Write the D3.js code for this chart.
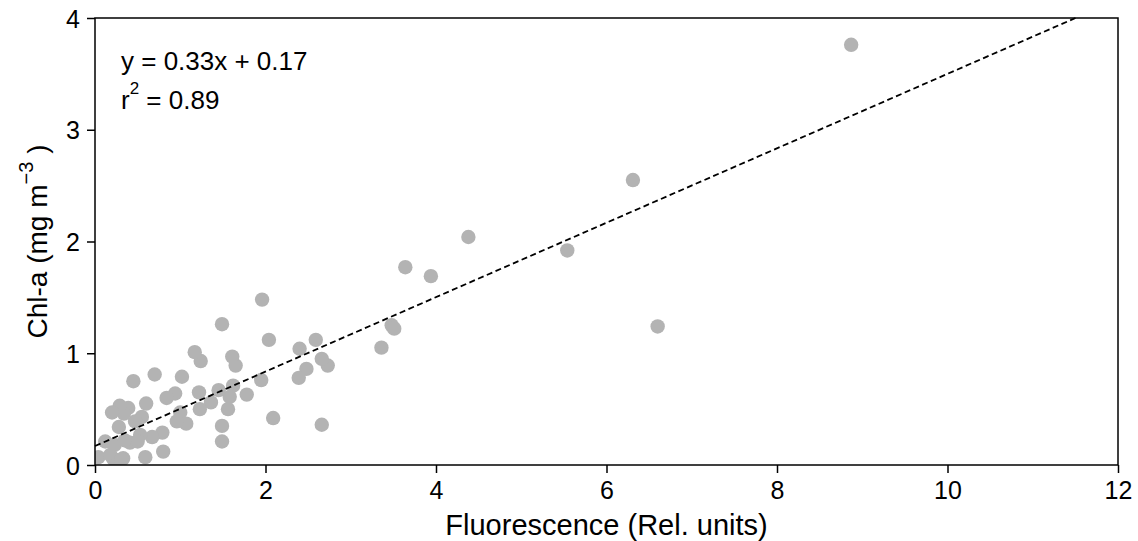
<!DOCTYPE html>
<html>
<head>
<meta charset="utf-8">
<script src="https://cdn.jsdelivr.net/npm/d3@7"></script>
<style>
  body { margin: 0; background: #fff; }
  svg text { font-family: "Liberation Sans", Arial, sans-serif; fill: #000; }
</style>
</head>
<body>
<svg id="chart" width="1138" height="541"></svg>
<script>
// fluorescence (x) vs chl-a (y)
const fluo = [8.87, 6.31, 6.60, 5.54, 4.38, 3.94, 3.64, 3.48, 3.51, 3.36,
  2.66, 2.73, 2.66, 2.59, 2.48, 2.40, 2.39, 2.09, 2.04, 1.96,
  1.95, 1.78, 1.65, 1.61, 1.62, 1.58, 1.56, 1.49, 1.49, 1.49,
  1.45, 1.36, 1.24, 1.17, 1.22, 1.23, 1.07, 1.02, 1.00, 0.96,
  0.94, 0.84, 0.79, 0.80, 0.70, 0.67, 0.60, 0.59, 0.55, 0.53,
  0.47, 0.45, 0.41, 0.39, 0.34, 0.33, 0.29, 0.28, 0.21, 0.20,
  0.12, 0.04, 0.50, 0.23, 0.35, 0.18, 0.26, 0.31];
const chla = [3.76, 2.55, 1.24, 1.92, 2.04, 1.69, 1.77, 1.25, 1.22, 1.05,
  0.36, 0.89, 0.95, 1.12, 0.86, 1.04, 0.78, 0.42, 1.12, 1.48,
  0.76, 0.63, 0.89, 0.97, 0.71, 0.61, 0.50, 1.26, 0.35, 0.21,
  0.67, 0.56, 0.93, 1.01, 0.65, 0.50, 0.37, 0.79, 0.47, 0.39,
  0.64, 0.60, 0.29, 0.12, 0.81, 0.25, 0.55, 0.07, 0.43, 0.27,
  0.39, 0.75, 0.20, 0.51, 0.46, 0.06, 0.53, 0.34, 0.06, 0.47,
  0.21, 0.07, 0.21, 0.18, 0.22, 0.09, 0.02, 0.05];

const xTicks = [0, 2, 4, 6, 8, 10, 12];
const yTicks = [0, 1, 2, 3, 4];

// regression line
const slope = 0.333, intercept = 0.17;

const svg = d3.select("#chart");
const margin = { left: 95, right: 20, top: 18, bottom: 76 };
const W = 1138 - margin.left - margin.right;
const H = 541 - margin.top - margin.bottom;

const x = d3.scaleLinear().domain([0, 12]).range([0, W]);
const y = d3.scaleLinear().domain([0, 4]).range([H, 0]);

const g = svg.append("g").attr("transform", `translate(${margin.left},${margin.top})`);

svg.append("defs").append("clipPath").attr("id", "clip")
  .append("rect").attr("width", W).attr("height", H);

const pts = fluo.map((v, i) => ({ x: v, y: chla[i] }));

g.append("g").attr("clip-path", "url(#clip)")
  .selectAll("circle")
  .data(pts)
  .join("circle")
  .attr("cx", d => x(d.x))
  .attr("cy", d => y(d.y))
  .attr("r", 7.2)
  .attr("fill", "#b3b3b3");

const x2 = (4 - intercept) / slope;
g.append("line")
  .attr("x1", x(0)).attr("y1", y(intercept))
  .attr("x2", x(x2)).attr("y2", y(4))
  .attr("stroke", "#000")
  .attr("stroke-width", 1.8)
  .attr("stroke-dasharray", "6,3.5");

// frame
g.append("rect")
  .attr("width", W).attr("height", H)
  .attr("fill", "none").attr("stroke", "#000").attr("stroke-width", 1.5);

const xAxis = g.append("g").attr("transform", `translate(0,${H})`)
  .call(d3.axisBottom(x).tickValues(xTicks).tickFormat(d3.format("d")).tickSize(8).tickPadding(8));
const yAxis = g.append("g")
  .call(d3.axisLeft(y).tickValues(yTicks).tickFormat(d3.format("d")).tickSize(8).tickPadding(7));

[xAxis, yAxis].forEach(a => {
  a.select(".domain").remove();
  a.selectAll("line").attr("stroke", "#000").attr("stroke-width", 1.5);
  a.selectAll("text").style("font-size", "25px").attr("fill", "#000");
});
yAxis.selectAll("text").attr("dy", "0.36em");

// axis titles
svg.append("text")
  .attr("x", margin.left + W / 2).attr("y", 535)
  .attr("text-anchor", "middle")
  .style("font-size", "29px")
  .text("Fluorescence (Rel. units)");

const yl = svg.append("text")
  .attr("transform", `translate(47,${margin.top + H / 2}) rotate(-90)`)
  .attr("text-anchor", "middle")
  .style("font-size", "28px");
yl.append("tspan").text("Chl-a (mg m");
yl.append("tspan").attr("dy", -14).style("font-size", "20px").text("\u22123");
yl.append("tspan").attr("dy", 14).text(" )");

// equation
g.append("text")
  .attr("x", 26).attr("y", 52)
  .style("font-size", "26px")
  .text("y = 0.33x + 0.17");
const r2 = g.append("text")
  .attr("x", 26).attr("y", 91)
  .style("font-size", "26px");
r2.append("tspan").text("r");
r2.append("tspan").attr("dy", -15).style("font-size", "17px").text("2");
r2.append("tspan").attr("dy", 15).text(" = 0.89");
</script>
</body>
</html>
